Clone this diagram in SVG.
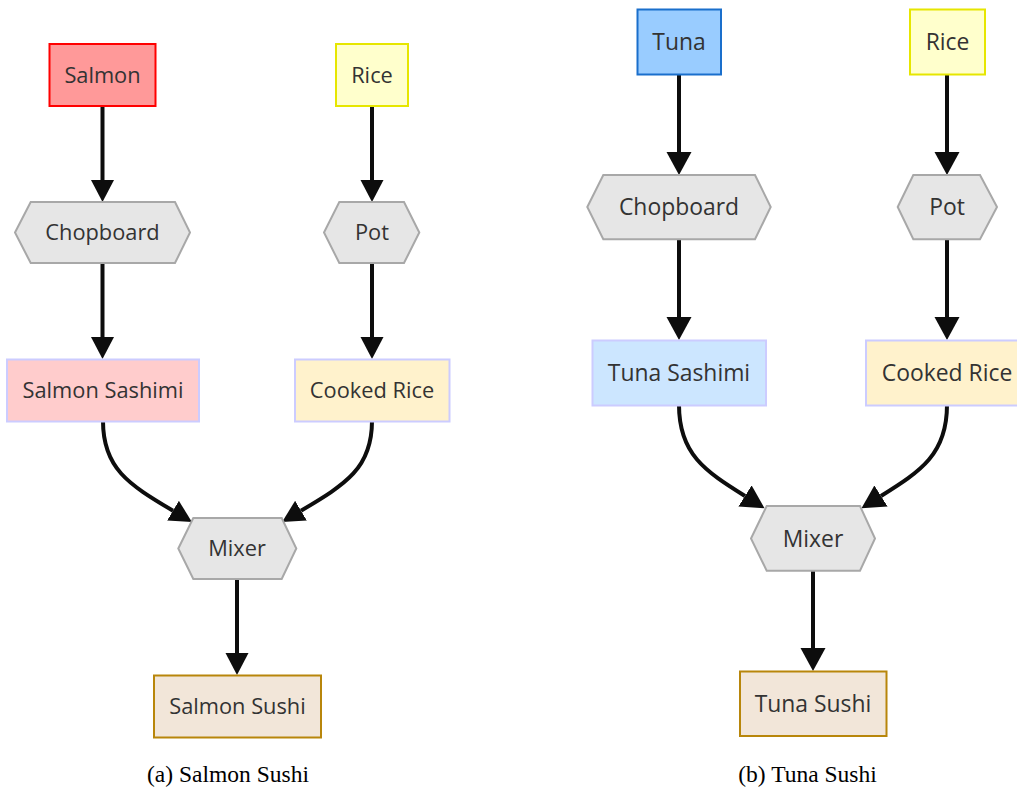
<svg xmlns="http://www.w3.org/2000/svg" width="1017" height="790" viewBox="0 0 1017 790">
<defs>
<style>
.lbl{font-family:"Open Sans","Noto Sans",sans-serif;fill:#333;text-anchor:middle}
.l{font-size:21.8px}
.r{font-size:22.9px}
.hex{fill:#e6e6e6;stroke:#a8a8a8;stroke-width:2}
.edge{fill:none;stroke:#0d0d0d;stroke-width:4}
.cap{font-family:"Liberation Serif","Times New Roman",serif;font-size:23.5px;fill:#000;text-anchor:middle}
</style>
<marker id="ahL" markerUnits="userSpaceOnUse" markerWidth="24" markerHeight="24" refX="0" refY="11.5" orient="auto"><path d="M0,0 L22,11.5 L0,23 z" fill="#0d0d0d"/></marker>
<marker id="ahR" markerUnits="userSpaceOnUse" markerWidth="26" markerHeight="26" refX="0" refY="12.5" orient="auto"><path d="M0,0 L23,12.5 L0,25 z" fill="#0d0d0d"/></marker>
</defs>
<rect width="1017" height="790" fill="#fff"/>
<g id="connectors">
<path class="edge" d="M102.5,106 L102.5,180" marker-end="url(#ahL)"/>
<path class="edge" d="M372,106 L372,180" marker-end="url(#ahL)"/>
<path class="edge" d="M102.5,263 L102.5,337" marker-end="url(#ahL)"/>
<path class="edge" d="M372,263 L372,337" marker-end="url(#ahL)"/>
<path class="edge" d="M103,421 C103,468 128,484 173,510.7" marker-end="url(#ahL)"/>
<path class="edge" d="M372,421 C372,468 346,484 301,510.7" marker-end="url(#ahL)"/>
<path class="edge" d="M237,579 L237,653" marker-end="url(#ahL)"/>
<path class="edge" d="M679,75 L679,152" marker-end="url(#ahR)"/>
<path class="edge" d="M947,75 L947,152" marker-end="url(#ahR)"/>
<path class="edge" d="M679,239 L679,317" marker-end="url(#ahR)"/>
<path class="edge" d="M947,239 L947,317" marker-end="url(#ahR)"/>
<path class="edge" d="M679,405 C679,454 705,471 745,496" marker-end="url(#ahR)"/>
<path class="edge" d="M947,405 C947,454 921,471 881,496" marker-end="url(#ahR)"/>
<path class="edge" d="M813,571 L813,648" marker-end="url(#ahR)"/>
</g>
<g id="a-salmon"><rect x="49.5" y="44" width="106" height="62" fill="#ff9999" stroke="#ff0000" stroke-width="2"/><text class="lbl l" x="102.5" y="82.8">Salmon</text></g>
<g id="a-rice"><rect x="336" y="44" width="72" height="62" fill="#ffffcc" stroke="#e6e600" stroke-width="2"/><text class="lbl l" x="372" y="82.8">Rice</text></g>
<g id="a-chopboard"><polygon class="hex" points="15,232.5 30.7,202 175,202 190,232.5 175,263 30.7,263"/><text class="lbl l" x="102.5" y="240.3">Chopboard</text></g>
<g id="a-pot"><polygon class="hex" points="324,232.5 339.3,202 404,202 419.3,232.5 404,263 339.3,263"/><text class="lbl l" x="372" y="240.3">Pot</text></g>
<g id="a-sashimi"><rect x="7" y="359.5" width="192" height="62" fill="#ffcccc" stroke="#ccccff" stroke-width="2"/><text class="lbl l" x="103" y="398.3">Salmon Sashimi</text></g>
<g id="a-cooked"><rect x="295" y="359.5" width="154.5" height="62" fill="#fff2cc" stroke="#ccccff" stroke-width="2"/><text class="lbl l" x="372" y="398.3">Cooked Rice</text></g>
<g id="a-mixer"><polygon class="hex" points="178.3,548.5 193.3,518 281.7,518 296.3,548.5 281.7,579 193.3,579"/><text class="lbl l" x="237" y="556.3">Mixer</text></g>
<g id="a-sushi"><rect x="154" y="675.5" width="167" height="62" fill="#f2e6d9" stroke="#b8860b" stroke-width="2"/><text class="lbl l" x="237.5" y="714.3">Salmon Sushi</text></g>
<g id="b-tuna"><rect x="637.5" y="9.5" width="83.5" height="65" fill="#99ccff" stroke="#1a6fcc" stroke-width="2"/><text class="lbl r" x="679" y="50.2">Tuna</text></g>
<g id="b-rice"><rect x="910" y="9.5" width="75" height="65" fill="#ffffcc" stroke="#e6e600" stroke-width="2"/><text class="lbl r" x="947.5" y="50.2">Rice</text></g>
<g id="b-chopboard"><polygon class="hex" points="587.3,207 603.3,175 755,175 770.7,207 755,239.3 603.3,239.3"/><text class="lbl r" x="679" y="215.2">Chopboard</text></g>
<g id="b-pot"><polygon class="hex" points="897.7,207 913.3,175 980,175 997,207 980,239.3 913.3,239.3"/><text class="lbl r" x="947" y="215.2">Pot</text></g>
<g id="b-sashimi"><rect x="592.5" y="340.5" width="173.5" height="65" fill="#cce6ff" stroke="#ccccff" stroke-width="2"/><text class="lbl r" x="679" y="381.2">Tuna Sashimi</text></g>
<g id="b-cooked"><rect x="866" y="340.5" width="163" height="65" fill="#fff2cc" stroke="#ccccff" stroke-width="2"/><text class="lbl r" x="947" y="381.2">Cooked Rice</text></g>
<g id="b-mixer"><polygon class="hex" points="751,538.5 766.7,506 860,506 875,538.5 860,570.7 766.7,570.7"/><text class="lbl r" x="813" y="546.7">Mixer</text></g>
<g id="b-sushi"><rect x="740" y="671.5" width="146.5" height="64.5" fill="#f2e6d9" stroke="#b8860b" stroke-width="2"/><text class="lbl r" x="813" y="711.7">Tuna Sushi</text></g>
<text class="cap" x="228" y="781.5">(a) Salmon Sushi</text>
<text class="cap" x="807.5" y="781.5">(b) Tuna Sushi</text>
</svg>
